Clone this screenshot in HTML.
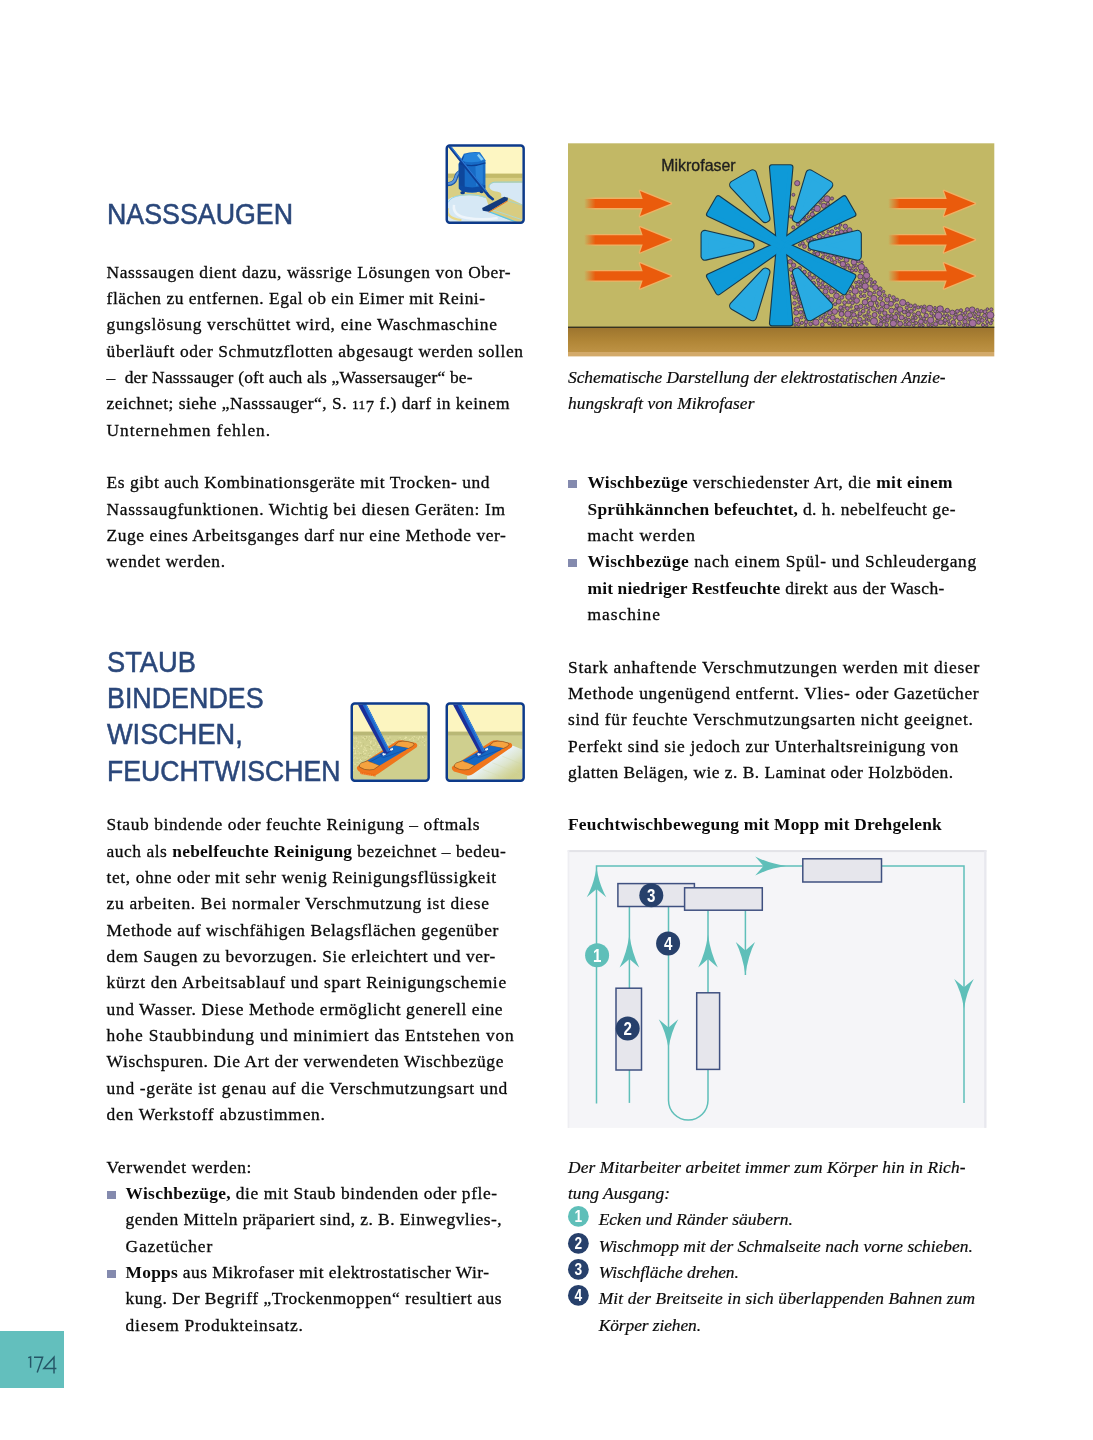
<!DOCTYPE html><html><head><meta charset="utf-8"><title>p174</title><style>

html,body{margin:0;padding:0;background:#fff;}
body{width:1093px;height:1440px;position:relative;overflow:hidden;font-family:"Liberation Serif",serif;}
.l{position:absolute;white-space:nowrap;font-size:17.4px;line-height:20px;height:20px;color:#0a0a0a;letter-spacing:var(--ls);-webkit-text-stroke:0.3px #0a0a0a;}
.l b{letter-spacing:calc(var(--ls) - 0.28px);-webkit-text-stroke:0;}
.os{font-size:0.77em;}
.os7{position:relative;top:0.17em;font-size:0.95em;}
.l.i{font-style:italic;-webkit-text-stroke:0.2px #0a0a0a;}
.l b{font-weight:bold;}
.h{position:absolute;white-space:nowrap;font-family:"Liberation Sans",sans-serif;font-size:29.6px;line-height:30px;height:30px;color:#2a477a;transform-origin:0 50%;-webkit-text-stroke:0.55px #2a477a;}
.sq{position:absolute;width:8.7px;height:7.5px;background:#848aae;}
.abs{position:absolute;}
#pg{position:absolute;left:0;top:0;width:1093px;height:1440px;will-change:transform;}

</style></head><body><div id="pg">
<div class="l r" id="l0" style="left:106.6px;top:262.00px;--ls:0.575px">Nasssaugen dient dazu, wässrige Lösungen von Ober-</div>
<div class="l r" id="l1" style="left:106.6px;top:288.00px;--ls:0.539px">flächen zu entfernen. Egal ob ein Eimer mit Reini-</div>
<div class="l r" id="l2" style="left:106.6px;top:314.00px;--ls:0.686px">gungslösung verschüttet wird, eine Waschmaschine</div>
<div class="l r" id="l3" style="left:106.6px;top:341.00px;--ls:0.624px">überläuft oder Schmutzflotten abgesaugt werden sollen</div>
<div class="l r" id="l4" style="left:106.6px;top:367.00px;--ls:0.225px">–&nbsp; der Nasssauger (oft auch als „Wassersauger“ be-</div>
<div class="l r" id="l5" style="left:106.6px;top:393.00px;--ls:0.497px">zeichnet; siehe „Nasssauger“, S. <span class="os">11</span><span class="os7">7</span> f.) darf in keinem</div>
<div class="l r" id="l6" style="left:106.6px;top:420.00px;--ls:0.926px">Unternehmen fehlen.</div>
<div class="l r" id="l7" style="left:106.6px;top:472.00px;--ls:0.561px">Es gibt auch Kombinationsgeräte mit Trocken- und</div>
<div class="l r" id="l8" style="left:106.6px;top:499.00px;--ls:0.640px">Nasssaugfunktionen. Wichtig bei diesen Geräten: Im</div>
<div class="l r" id="l9" style="left:106.6px;top:525.00px;--ls:0.583px">Zuge eines Arbeitsganges darf nur eine Methode ver-</div>
<div class="l r" id="l10" style="left:106.6px;top:551.00px;--ls:0.643px">wendet werden.</div>
<div class="l r" id="l11" style="left:106.6px;top:814.00px;--ls:0.608px">Staub bindende oder feuchte Reinigung – oftmals</div>
<div class="l r" id="l12" style="left:106.6px;top:841.00px;--ls:0.536px">auch als <b>nebelfeuchte Reinigung</b> bezeichnet – bedeu-</div>
<div class="l r" id="l13" style="left:106.6px;top:867.00px;--ls:0.614px">tet, ohne oder mit sehr wenig Reinigungsflüssigkeit</div>
<div class="l r" id="l14" style="left:106.6px;top:893.00px;--ls:0.677px">zu arbeiten. Bei normaler Verschmutzung ist diese</div>
<div class="l r" id="l15" style="left:106.6px;top:920.00px;--ls:0.565px">Methode auf wischfähigen Belagsflächen gegenüber</div>
<div class="l r" id="l16" style="left:106.6px;top:946.00px;--ls:0.590px">dem Saugen zu bevorzugen. Sie erleichtert und ver-</div>
<div class="l r" id="l17" style="left:106.6px;top:972.00px;--ls:0.692px">kürzt den Arbeitsablauf und spart Reinigungschemie</div>
<div class="l r" id="l18" style="left:106.6px;top:999.00px;--ls:0.597px">und Wasser. Diese Methode ermöglicht generell eine</div>
<div class="l r" id="l19" style="left:106.6px;top:1025.00px;--ls:0.791px">hohe Staubbindung und minimiert das Entstehen von</div>
<div class="l r" id="l20" style="left:106.6px;top:1051.00px;--ls:0.629px">Wischspuren. Die Art der verwendeten Wischbezüge</div>
<div class="l r" id="l21" style="left:106.6px;top:1078.00px;--ls:0.709px">und -geräte ist genau auf die Verschmutzungsart und</div>
<div class="l r" id="l22" style="left:106.6px;top:1104.00px;--ls:0.759px">den Werkstoff abzustimmen.</div>
<div class="l r" id="l23" style="left:106.6px;top:1157.00px;--ls:0.634px">Verwendet werden:</div>
<div class="l r" id="l24" style="left:125.6px;top:1183.00px;--ls:0.584px"><b>Wischbezüge,</b> die mit Staub bindenden oder pfle-</div>
<div class="l r" id="l25" style="left:125.6px;top:1209.00px;--ls:0.467px">genden Mitteln präpariert sind, z. B. Einwegvlies-,</div>
<div class="l r" id="l26" style="left:125.6px;top:1236.00px;--ls:0.823px">Gazetücher</div>
<div class="l r" id="l27" style="left:125.6px;top:1262.00px;--ls:0.497px"><b>Mopps</b> aus Mikrofaser mit elektrostatischer Wir-</div>
<div class="l r" id="l28" style="left:125.6px;top:1288.00px;--ls:0.537px">kung. Der Begriff „Trockenmoppen“ resultiert aus</div>
<div class="l r" id="l29" style="left:125.6px;top:1315.00px;--ls:0.762px">diesem Produkteinsatz.</div>
<div class="l i" id="l30" style="left:568.0px;top:367.00px;--ls:-0.038px">Schematische Darstellung der elektrostatischen Anzie-</div>
<div class="l i" id="l31" style="left:568.0px;top:393.00px;--ls:0.066px">hungskraft von Mikrofaser</div>
<div class="l r" id="l32" style="left:587.5px;top:472.00px;--ls:0.573px"><b>Wischbezüge</b> verschiedenster Art, die <b>mit einem</b></div>
<div class="l r" id="l33" style="left:587.5px;top:499.00px;--ls:0.507px"><b>Sprühkännchen befeuchtet,</b> d. h. nebelfeucht ge-</div>
<div class="l r" id="l34" style="left:587.5px;top:525.00px;--ls:0.847px">macht werden</div>
<div class="l r" id="l35" style="left:587.5px;top:551.00px;--ls:0.679px"><b>Wischbezüge</b> nach einem Spül- und Schleudergang</div>
<div class="l r" id="l36" style="left:587.5px;top:578.00px;--ls:0.437px"><b>mit niedriger Restfeuchte</b> direkt aus der Wasch-</div>
<div class="l r" id="l37" style="left:587.5px;top:604.00px;--ls:0.977px">maschine</div>
<div class="l r" id="l38" style="left:568.0px;top:657.00px;--ls:0.742px">Stark anhaftende Verschmutzungen werden mit dieser</div>
<div class="l r" id="l39" style="left:568.0px;top:683.00px;--ls:0.627px">Methode ungenügend entfernt. Vlies- oder Gazetücher</div>
<div class="l r" id="l40" style="left:568.0px;top:709.00px;--ls:0.692px">sind für feuchte Verschmutzungsarten nicht geeignet.</div>
<div class="l r" id="l41" style="left:568.0px;top:736.00px;--ls:0.636px">Perfekt sind sie jedoch zur Unterhaltsreinigung von</div>
<div class="l r" id="l42" style="left:568.0px;top:762.00px;--ls:0.478px">glatten Belägen, wie z. B. Laminat oder Holzböden.</div>
<div class="l r" id="l43" style="left:568.0px;top:814.00px;--ls:0.492px"><b>Feuchtwischbewegung mit Mopp mit Drehgelenk</b></div>
<div class="l i" id="l44" style="left:568.0px;top:1157.00px;--ls:0.100px">Der Mitarbeiter arbeitet immer zum Körper hin in Rich-</div>
<div class="l i" id="l45" style="left:568.0px;top:1183.00px;--ls:0.030px">tung Ausgang:</div>
<div class="l i" id="l46" style="left:598.7px;top:1209.00px;--ls:0.040px">Ecken und Ränder säubern.</div>
<div class="l i" id="l47" style="left:598.7px;top:1236.00px;--ls:0.015px">Wischmopp mit der Schmalseite nach vorne schieben.</div>
<div class="l i" id="l48" style="left:598.7px;top:1262.00px;--ls:-0.009px">Wischfläche drehen.</div>
<div class="l i" id="l49" style="left:598.7px;top:1288.00px;--ls:0.112px">Mit der Breitseite in sich überlappenden Bahnen zum</div>
<div class="l i" id="l50" style="left:598.7px;top:1315.00px;--ls:-0.077px">Körper ziehen.</div>
<div class="h" id="h0" style="left:107.1px;top:199.34px;transform:scaleX(0.9048)">NASSSAUGEN</div>
<div class="h" id="h1" style="left:107.1px;top:646.64px;transform:scaleX(0.9205)">STAUB</div>
<div class="h" id="h2" style="left:107.1px;top:682.74px;transform:scaleX(0.9069)">BINDENDES</div>
<div class="h" id="h3" style="left:107.1px;top:718.74px;transform:scaleX(0.9171)">WISCHEN,</div>
<div class="h" id="h4" style="left:107.1px;top:755.54px;transform:scaleX(0.8985)">FEUCHTWISCHEN</div>
<div class="abs" style="left:0;top:1331px;width:64px;height:57px;background:#63bfbd"></div>
<svg class="abs" style="left:24px;top:1352px" width="40" height="28" viewBox="0 0 40 28">
<g fill="none" stroke="#255566" stroke-width="1.45" stroke-linecap="butt" stroke-linejoin="miter">
<path d="M4.2 5.6 L6.6 5.0 L6.6 15.8"/>
<path d="M10.0 5.2 L18.6 5.2 L13.2 20.4"/>
<path d="M30.0 21.4 L30.0 5.2 L19.8 16.4 L32.4 16.4"/>
</g></svg>
<div class="sq" style="left:107.2px;top:1191.0px"></div>
<div class="sq" style="left:107.2px;top:1270.0px"></div>
<div class="sq" style="left:568.2px;top:480.4px"></div>
<div class="sq" style="left:568.2px;top:559.4px"></div>
<svg class="abs" style="left:567.00px;top:1205.47px" width="22.8" height="22.8" viewBox="0 0 22.8 22.8"><circle cx="11.4" cy="11.4" r="10.4" fill="#5fbfb9"/><text transform="translate(11.4 17.30) scale(0.84 1)" x="0" y="0" text-anchor="middle" font-family="Liberation Sans, sans-serif" font-weight="bold" font-size="16.4" fill="#fff">1</text></svg>
<svg class="abs" style="left:567.00px;top:1231.79px" width="22.8" height="22.8" viewBox="0 0 22.8 22.8"><circle cx="11.4" cy="11.4" r="10.4" fill="#27406b"/><text transform="translate(11.4 17.30) scale(0.84 1)" x="0" y="0" text-anchor="middle" font-family="Liberation Sans, sans-serif" font-weight="bold" font-size="16.4" fill="#fff">2</text></svg>
<svg class="abs" style="left:567.00px;top:1258.11px" width="22.8" height="22.8" viewBox="0 0 22.8 22.8"><circle cx="11.4" cy="11.4" r="10.4" fill="#27406b"/><text transform="translate(11.4 17.30) scale(0.84 1)" x="0" y="0" text-anchor="middle" font-family="Liberation Sans, sans-serif" font-weight="bold" font-size="16.4" fill="#fff">3</text></svg>
<svg class="abs" style="left:567.00px;top:1284.43px" width="22.8" height="22.8" viewBox="0 0 22.8 22.8"><circle cx="11.4" cy="11.4" r="10.4" fill="#27406b"/><text transform="translate(11.4 17.30) scale(0.84 1)" x="0" y="0" text-anchor="middle" font-family="Liberation Sans, sans-serif" font-weight="bold" font-size="16.4" fill="#fff">4</text></svg>
<svg class="abs" style="left:567px;top:850px" width="421" height="279" viewBox="567 850 421 279">
<rect x="567.7" y="850.1" width="418.7" height="277.8" fill="#f5f5f8"/>
<rect x="567.7" y="850.1" width="418.7" height="2" fill="#e3e3e8"/>
<rect x="567.7" y="850.1" width="1.6" height="277.8" fill="#eeeef2"/>
<rect x="984.2" y="850.1" width="2.2" height="277.8" fill="#e8e8ee"/>
<path d="M596.5 1103.5 L596.5 866 L964 866 L964 1103" fill="none" stroke="#5fbfb9" stroke-width="1.5"/>
<path d="M629.4 906.7 L629.4 1102.9" fill="none" stroke="#5fbfb9" stroke-width="1.5"/>
<path d="M668.5 906.7 L668.5 1100.3 A19.75 19.75 0 0 0 708 1100.3 L708 910.4" fill="none" stroke="#5fbfb9" stroke-width="1.5"/>
<path d="M745.4 910.4 L745.4 975" fill="none" stroke="#5fbfb9" stroke-width="1.5"/>
<path d="M596.5 867.5 Q599.24 884.78 606.3 897.3 L596.5 889 L586.7 897.3 Q593.76 884.78 596.5 867.5 Z" fill="#5fbfb9"/>
<path d="M786 866 Q768.14 863.31 755.2 856.4 L763.5 866 L755.2 875.6 Q768.14 868.69 786 866 Z" fill="#5fbfb9"/>
<path d="M629.4 934.8 Q632.14 953.77 639.1999999999999 967.5 L629.4 959 L619.6 967.5 Q626.66 953.77 629.4 934.8 Z" fill="#5fbfb9"/>
<path d="M668.5 1048.3 Q671.24 1031.42 678.3 1019.2 L668.5 1027.5 L658.7 1019.2 Q665.76 1031.42 668.5 1048.3 Z" fill="#5fbfb9"/>
<path d="M708 934.8 Q710.74 953.77 717.8 967.5 L708 959 L698.2 967.5 Q705.26 953.77 708 934.8 Z" fill="#5fbfb9"/>
<path d="M745.4 975 Q748.09 955.92 755.0 942.1 L745.4 950.5 L735.8 942.1 Q742.71 955.92 745.4 975 Z" fill="#5fbfb9"/>
<path d="M964 1008.4 Q966.74 991.29 973.8 978.9 L964 987.3 L954.2 978.9 Q961.26 991.29 964 1008.4 Z" fill="#5fbfb9"/>
<rect x="802.8" y="858.8" width="78.7" height="23.2" fill="#e6e6ec" stroke="#3f5080" stroke-width="1.5"/>
<rect x="617.9" y="883.6" width="76.5" height="22.9" fill="#e6e6ec" stroke="#3f5080" stroke-width="1.5"/>
<rect x="684.6" y="887.8" width="77.7" height="22.4" fill="#e6e6ec" stroke="#3f5080" stroke-width="1.5"/>
<rect x="616.0" y="988.2" width="25.5" height="81.8" fill="#e6e6ec" stroke="#3f5080" stroke-width="1.5"/>
<rect x="696.7" y="992.8" width="22.9" height="76.6" fill="#e6e6ec" stroke="#3f5080" stroke-width="1.5"/>
<circle cx="597.1" cy="955.2" r="12" fill="#5fbfb9"/><text transform="translate(597.1 961.6) scale(0.84 1)" x="0" y="0" text-anchor="middle" font-family="Liberation Sans, sans-serif" font-weight="bold" font-size="18" fill="#fff">1</text>
<circle cx="627.7" cy="1028.5" r="12" fill="#27406b"/><text transform="translate(627.7 1034.9) scale(0.84 1)" x="0" y="0" text-anchor="middle" font-family="Liberation Sans, sans-serif" font-weight="bold" font-size="18" fill="#fff">2</text>
<circle cx="651.3" cy="895.2" r="12" fill="#27406b"/><text transform="translate(651.3 901.6) scale(0.84 1)" x="0" y="0" text-anchor="middle" font-family="Liberation Sans, sans-serif" font-weight="bold" font-size="18" fill="#fff">3</text>
<circle cx="668.1" cy="943.5" r="12" fill="#27406b"/><text transform="translate(668.1 949.9) scale(0.84 1)" x="0" y="0" text-anchor="middle" font-family="Liberation Sans, sans-serif" font-weight="bold" font-size="18" fill="#fff">4</text>
</svg><svg class="abs" style="left:568px;top:143px" width="428" height="215" viewBox="568 143 428 215">
<defs>
<linearGradient id="gr" x1="0" y1="0" x2="0" y2="1"><stop offset="0" stop-color="#9c742e"/><stop offset="0.45" stop-color="#b08536"/><stop offset="0.84" stop-color="#bd9244"/><stop offset="0.85" stop-color="#d3aa6a"/><stop offset="1" stop-color="#d3aa6a"/></linearGradient>
<linearGradient id="af" x1="0" y1="0" x2="1" y2="0"><stop offset="0" stop-color="#ea5b0c" stop-opacity="0"/><stop offset="0.13" stop-color="#ea5b0c" stop-opacity="1"/><stop offset="1" stop-color="#ea5b0c"/></linearGradient>
<linearGradient id="ah" x1="0" y1="0" x2="1" y2="0"><stop offset="0" stop-color="#f0a050" stop-opacity="0"/><stop offset="0.13" stop-color="#f6b064" stop-opacity="0.85"/><stop offset="1" stop-color="#f6b064" stop-opacity="0.85"/></linearGradient>
</defs>
<rect x="568" y="143.3" width="426.3" height="183.9" fill="#c2b865"/>
<rect x="568" y="327.2" width="426.3" height="29.2" fill="url(#gr)"/>
<path d="M584.2 198.9 L642.7 198.9 L640.0 190.9 L670.9000000000001 203.5 L640.0 216.1 L642.7 208.1 L584.2 208.1 Z" fill="none" stroke="url(#ah)" stroke-width="2.6" stroke-linejoin="round"/><path d="M584.2 198.9 L642.7 198.9 L640.0 190.9 L670.9000000000001 203.5 L640.0 216.1 L642.7 208.1 L584.2 208.1 Z" fill="url(#af)"/>
<path d="M888.2 198.9 L946.7 198.9 L944.0 190.9 L974.9000000000001 203.5 L944.0 216.1 L946.7 208.1 L888.2 208.1 Z" fill="none" stroke="url(#ah)" stroke-width="2.6" stroke-linejoin="round"/><path d="M888.2 198.9 L946.7 198.9 L944.0 190.9 L974.9000000000001 203.5 L944.0 216.1 L946.7 208.1 L888.2 208.1 Z" fill="url(#af)"/>
<path d="M584.2 235.20000000000002 L642.7 235.20000000000002 L640.0 227.20000000000002 L670.9000000000001 239.8 L640.0 252.4 L642.7 244.4 L584.2 244.4 Z" fill="none" stroke="url(#ah)" stroke-width="2.6" stroke-linejoin="round"/><path d="M584.2 235.20000000000002 L642.7 235.20000000000002 L640.0 227.20000000000002 L670.9000000000001 239.8 L640.0 252.4 L642.7 244.4 L584.2 244.4 Z" fill="url(#af)"/>
<path d="M888.2 235.20000000000002 L946.7 235.20000000000002 L944.0 227.20000000000002 L974.9000000000001 239.8 L944.0 252.4 L946.7 244.4 L888.2 244.4 Z" fill="none" stroke="url(#ah)" stroke-width="2.6" stroke-linejoin="round"/><path d="M888.2 235.20000000000002 L946.7 235.20000000000002 L944.0 227.20000000000002 L974.9000000000001 239.8 L944.0 252.4 L946.7 244.4 L888.2 244.4 Z" fill="url(#af)"/>
<path d="M584.2 271.29999999999995 L642.7 271.29999999999995 L640.0 263.29999999999995 L670.9000000000001 275.9 L640.0 288.5 L642.7 280.5 L584.2 280.5 Z" fill="none" stroke="url(#ah)" stroke-width="2.6" stroke-linejoin="round"/><path d="M584.2 271.29999999999995 L642.7 271.29999999999995 L640.0 263.29999999999995 L670.9000000000001 275.9 L640.0 288.5 L642.7 280.5 L584.2 280.5 Z" fill="url(#af)"/>
<path d="M888.2 271.29999999999995 L946.7 271.29999999999995 L944.0 263.29999999999995 L974.9000000000001 275.9 L944.0 288.5 L946.7 280.5 L888.2 280.5 Z" fill="none" stroke="url(#ah)" stroke-width="2.6" stroke-linejoin="round"/><path d="M888.2 271.29999999999995 L946.7 271.29999999999995 L944.0 263.29999999999995 L974.9000000000001 275.9 L944.0 288.5 L946.7 280.5 L888.2 280.5 Z" fill="url(#af)"/>
<text x="661.2" y="171.2" font-family="Liberation Sans, sans-serif" font-size="16.4" fill="#1e1e1e" stroke="#1e1e1e" stroke-width="0.35" textLength="74.5" lengthAdjust="spacingAndGlyphs">Mikrofaser</text>
<g fill="#a46f9e" stroke="#4d3b50" stroke-width="0.8"><circle cx="957.3" cy="311.3" r="1.9"/><circle cx="915.7" cy="317.9" r="1.6"/><circle cx="904.3" cy="312.0" r="1.9"/><circle cx="870.9" cy="303.9" r="2.8"/><circle cx="847.4" cy="308.4" r="1.9"/><circle cx="860.9" cy="296.2" r="1.6"/><circle cx="901.6" cy="317.4" r="2.5"/><circle cx="926.2" cy="315.5" r="2.2"/><circle cx="880.7" cy="324.2" r="2.2"/><circle cx="947.3" cy="310.5" r="2.2"/><circle cx="893.3" cy="323.5" r="3.2"/><circle cx="877.2" cy="310.5" r="1.6"/><circle cx="854.5" cy="321.3" r="2.5"/><circle cx="848.5" cy="296.7" r="2.8"/><circle cx="887.3" cy="320.5" r="1.6"/><circle cx="929.8" cy="308.5" r="3.2"/><circle cx="930.7" cy="320.2" r="3.2"/><circle cx="970.1" cy="315.3" r="2.5"/><circle cx="794.5" cy="303.3" r="1.9"/><circle cx="938.5" cy="315.8" r="3.6"/><circle cx="887.3" cy="299.7" r="2.5"/><circle cx="870.0" cy="293.8" r="2.5"/><circle cx="985.0" cy="311.7" r="1.9"/><circle cx="814.1" cy="277.4" r="1.6"/><circle cx="884.8" cy="313.1" r="2.2"/><circle cx="911.3" cy="311.3" r="1.9"/><circle cx="920.9" cy="321.7" r="2.5"/><circle cx="972.7" cy="323.2" r="3.6"/><circle cx="866.6" cy="275.5" r="3.2"/><circle cx="866.9" cy="280.9" r="1.9"/><circle cx="875.4" cy="287.5" r="2.8"/><circle cx="884.6" cy="295.5" r="1.6"/><circle cx="940.9" cy="322.3" r="2.5"/><circle cx="825.5" cy="320.6" r="2.2"/><circle cx="965.0" cy="321.7" r="2.2"/><circle cx="952.3" cy="312.6" r="2.5"/><circle cx="949.5" cy="317.6" r="1.9"/><circle cx="953.4" cy="322.2" r="2.2"/><circle cx="984.5" cy="315.6" r="1.9"/><circle cx="960.2" cy="317.7" r="3.2"/><circle cx="880.2" cy="317.1" r="1.6"/><circle cx="908.3" cy="314.5" r="2.2"/><circle cx="874.0" cy="321.3" r="3.6"/><circle cx="967.3" cy="309.5" r="1.9"/><circle cx="900.0" cy="309.5" r="2.8"/><circle cx="804.5" cy="272.1" r="1.9"/><circle cx="865.2" cy="286.2" r="3.2"/><circle cx="918.4" cy="313.5" r="2.2"/><circle cx="844.6" cy="323.0" r="1.6"/><circle cx="990.8" cy="323.3" r="1.6"/><circle cx="796.1" cy="312.7" r="2.5"/><circle cx="978.5" cy="313.9" r="1.9"/><circle cx="891.0" cy="303.8" r="2.5"/><circle cx="990.3" cy="315.2" r="3.6"/><circle cx="793.7" cy="293.1" r="2.5"/><circle cx="908.9" cy="319.8" r="1.6"/><circle cx="879.4" cy="293.3" r="2.5"/><circle cx="801.3" cy="306.0" r="1.9"/><circle cx="918.3" cy="307.4" r="1.6"/><circle cx="796.9" cy="320.0" r="2.8"/><circle cx="825.5" cy="291.5" r="2.5"/><circle cx="886.7" cy="306.6" r="2.5"/><circle cx="891.5" cy="310.7" r="2.5"/><circle cx="864.0" cy="322.0" r="1.9"/><circle cx="861.2" cy="324.2" r="1.6"/><circle cx="860.1" cy="313.6" r="1.9"/><circle cx="863.2" cy="311.1" r="1.9"/><circle cx="949.5" cy="324.4" r="1.6"/><circle cx="902.7" cy="302.6" r="3.2"/><circle cx="931.4" cy="313.5" r="1.6"/><circle cx="858.8" cy="281.8" r="1.6"/><circle cx="880.6" cy="298.6" r="2.2"/><circle cx="977.4" cy="310.0" r="1.6"/><circle cx="940.2" cy="309.0" r="3.2"/><circle cx="935.8" cy="324.1" r="2.2"/><circle cx="882.4" cy="304.0" r="2.5"/><circle cx="822.9" cy="238.1" r="1.6"/><circle cx="836.5" cy="295.9" r="2.8"/><circle cx="853.9" cy="262.1" r="2.8"/><circle cx="886.6" cy="324.8" r="1.9"/><circle cx="837.2" cy="258.2" r="1.9"/><circle cx="831.0" cy="255.2" r="2.2"/><circle cx="895.2" cy="317.2" r="2.5"/><circle cx="864.8" cy="291.2" r="1.6"/><circle cx="978.6" cy="322.4" r="1.9"/><circle cx="823.8" cy="205.8" r="2.5"/><circle cx="972.2" cy="309.7" r="2.8"/><circle cx="876.7" cy="303.0" r="1.6"/><circle cx="856.4" cy="307.0" r="1.9"/><circle cx="793.5" cy="283.3" r="2.2"/><circle cx="804.5" cy="246.5" r="1.9"/><circle cx="837.2" cy="233.1" r="1.9"/><circle cx="865.0" cy="302.2" r="2.8"/><circle cx="842.9" cy="264.1" r="2.8"/><circle cx="837.2" cy="320.3" r="2.2"/><circle cx="912.9" cy="320.8" r="1.9"/><circle cx="841.5" cy="314.0" r="2.5"/><circle cx="864.4" cy="295.9" r="1.6"/><circle cx="855.2" cy="291.0" r="3.2"/><circle cx="812.3" cy="214.5" r="2.2"/><circle cx="853.8" cy="314.8" r="2.2"/><circle cx="822.8" cy="287.0" r="1.9"/><circle cx="799.6" cy="268.3" r="1.9"/><circle cx="800.7" cy="312.3" r="1.9"/><circle cx="861.3" cy="266.9" r="3.2"/><circle cx="910.7" cy="305.9" r="1.9"/><circle cx="900.2" cy="323.8" r="2.5"/><circle cx="815.9" cy="322.2" r="3.2"/><circle cx="852.4" cy="302.8" r="1.9"/><circle cx="817.6" cy="254.0" r="2.2"/><circle cx="923.7" cy="310.8" r="2.5"/><circle cx="868.5" cy="312.0" r="1.6"/><circle cx="835.1" cy="304.2" r="1.6"/><circle cx="896.8" cy="305.6" r="1.9"/><circle cx="916.2" cy="323.0" r="1.6"/><circle cx="859.8" cy="319.4" r="2.2"/><circle cx="844.6" cy="302.6" r="1.9"/><circle cx="856.7" cy="300.6" r="2.8"/><circle cx="959.3" cy="323.6" r="1.9"/><circle cx="847.9" cy="265.3" r="1.6"/><circle cx="928.5" cy="325.1" r="1.6"/><circle cx="832.0" cy="231.6" r="1.9"/><circle cx="897.1" cy="299.7" r="1.6"/><circle cx="798.6" cy="299.5" r="1.6"/><circle cx="814.7" cy="240.1" r="1.6"/><circle cx="834.7" cy="311.6" r="2.8"/><circle cx="846.5" cy="259.8" r="2.5"/><circle cx="982.3" cy="320.4" r="1.9"/><circle cx="827.0" cy="198.9" r="3.2"/><circle cx="893.4" cy="297.6" r="1.9"/><circle cx="857.0" cy="286.4" r="1.6"/><circle cx="848.9" cy="324.4" r="1.6"/><circle cx="873.4" cy="308.8" r="2.2"/><circle cx="822.3" cy="324.7" r="1.9"/><circle cx="827.6" cy="296.6" r="1.9"/><circle cx="852.2" cy="325.0" r="1.6"/><circle cx="967.5" cy="325.2" r="1.6"/><circle cx="817.2" cy="208.5" r="3.2"/><circle cx="805.7" cy="219.7" r="1.6"/><circle cx="874.6" cy="315.0" r="2.5"/><circle cx="855.9" cy="270.2" r="1.6"/><circle cx="884.1" cy="321.5" r="1.6"/><circle cx="860.3" cy="276.5" r="2.5"/><circle cx="974.9" cy="316.8" r="1.6"/><circle cx="965.3" cy="312.9" r="1.6"/><circle cx="920.4" cy="316.9" r="1.6"/><circle cx="905.3" cy="324.4" r="1.6"/><circle cx="987.2" cy="322.0" r="1.6"/><circle cx="827.0" cy="236.3" r="2.5"/><circle cx="906.8" cy="307.6" r="1.6"/><circle cx="818.7" cy="283.7" r="1.6"/><circle cx="991.3" cy="309.4" r="1.6"/><circle cx="914.2" cy="314.5" r="1.6"/><circle cx="801.9" cy="322.9" r="1.6"/><circle cx="873.9" cy="298.6" r="3.2"/><circle cx="888.1" cy="316.4" r="1.9"/><circle cx="961.0" cy="310.3" r="1.6"/><circle cx="954.7" cy="317.6" r="1.9"/><circle cx="874.8" cy="282.2" r="1.6"/><circle cx="924.4" cy="306.6" r="1.6"/><circle cx="884.3" cy="317.8" r="1.9"/><circle cx="914.4" cy="308.9" r="1.6"/><circle cx="847.9" cy="314.1" r="3.2"/><circle cx="831.3" cy="299.9" r="2.5"/><circle cx="818.0" cy="280.1" r="1.6"/><circle cx="840.0" cy="325.0" r="1.9"/><circle cx="838.7" cy="301.6" r="2.5"/><circle cx="945.2" cy="320.2" r="1.9"/><circle cx="841.8" cy="297.4" r="1.9"/><circle cx="849.6" cy="230.2" r="2.5"/><circle cx="870.9" cy="279.4" r="1.6"/><circle cx="881.7" cy="309.5" r="2.2"/><circle cx="791.1" cy="269.5" r="1.9"/><circle cx="809.5" cy="249.3" r="1.6"/><circle cx="825.6" cy="254.3" r="1.6"/><circle cx="801.5" cy="317.4" r="1.6"/><circle cx="860.7" cy="306.4" r="2.2"/><circle cx="809.9" cy="278.2" r="2.5"/><circle cx="840.6" cy="307.6" r="1.9"/><circle cx="845.3" cy="226.3" r="2.2"/><circle cx="841.3" cy="257.8" r="1.6"/><circle cx="847.6" cy="320.0" r="1.6"/><circle cx="841.3" cy="232.0" r="2.2"/><circle cx="792.6" cy="275.9" r="1.9"/><circle cx="983.0" cy="325.0" r="1.6"/><circle cx="831.6" cy="291.5" r="2.2"/><circle cx="832.7" cy="317.7" r="2.5"/><circle cx="891.2" cy="318.8" r="1.6"/><circle cx="944.1" cy="316.1" r="1.6"/><circle cx="854.4" cy="296.2" r="1.6"/><circle cx="802.8" cy="243.3" r="1.6"/><circle cx="851.9" cy="311.3" r="1.3"/><circle cx="794.9" cy="297.5" r="1.6"/><circle cx="912.6" cy="317.5" r="1.3"/><circle cx="829.8" cy="312.8" r="2.2"/><circle cx="955.9" cy="314.5" r="1.3"/><circle cx="977.7" cy="318.9" r="1.6"/><circle cx="822.8" cy="257.2" r="1.6"/><circle cx="883.6" cy="291.6" r="1.3"/><circle cx="829.2" cy="323.2" r="1.6"/><circle cx="935.1" cy="311.1" r="1.6"/><circle cx="797.9" cy="224.5" r="1.6"/><circle cx="793.2" cy="279.3" r="1.3"/><circle cx="866.9" cy="324.0" r="1.3"/><circle cx="822.6" cy="283.0" r="1.6"/><circle cx="880.9" cy="320.6" r="1.3"/><circle cx="832.0" cy="198.5" r="1.6"/><circle cx="831.6" cy="259.9" r="1.6"/><circle cx="871.1" cy="286.0" r="1.3"/><circle cx="864.1" cy="316.1" r="1.3"/><circle cx="980.6" cy="317.3" r="1.3"/><circle cx="855.1" cy="310.2" r="1.3"/><circle cx="869.6" cy="316.5" r="1.6"/><circle cx="935.0" cy="307.8" r="1.3"/><circle cx="829.5" cy="288.1" r="1.6"/><circle cx="798.1" cy="307.1" r="1.3"/><circle cx="804.2" cy="314.7" r="1.3"/><circle cx="915.0" cy="305.5" r="1.6"/><circle cx="905.1" cy="321.2" r="1.3"/><circle cx="863.8" cy="279.2" r="1.3"/><circle cx="965.4" cy="317.4" r="1.9"/><circle cx="795.0" cy="308.4" r="1.3"/><circle cx="925.6" cy="321.9" r="1.6"/><circle cx="923.0" cy="325.5" r="1.3"/><circle cx="835.7" cy="228.2" r="1.3"/><circle cx="858.4" cy="261.3" r="1.6"/><circle cx="851.1" cy="306.9" r="1.3"/><circle cx="860.0" cy="271.6" r="1.3"/><circle cx="812.9" cy="210.6" r="1.3"/><circle cx="793.3" cy="288.0" r="1.3"/><circle cx="944.8" cy="323.5" r="1.3"/><circle cx="819.1" cy="287.6" r="1.6"/><circle cx="909.2" cy="323.9" r="2.2"/><circle cx="806.1" cy="322.0" r="1.9"/><circle cx="986.7" cy="325.5" r="1.3"/><circle cx="849.8" cy="268.2" r="1.6"/><circle cx="857.5" cy="316.1" r="1.3"/><circle cx="804.5" cy="216.7" r="1.3"/><circle cx="894.2" cy="301.1" r="1.3"/><circle cx="802.5" cy="218.9" r="1.6"/><circle cx="793.6" cy="265.2" r="2.2"/><circle cx="820.1" cy="202.9" r="1.3"/><circle cx="827.9" cy="203.9" r="1.6"/><circle cx="798.7" cy="324.6" r="1.6"/><circle cx="795.1" cy="324.9" r="1.3"/><circle cx="832.9" cy="322.6" r="1.3"/><circle cx="860.6" cy="292.3" r="1.6"/><circle cx="889.5" cy="295.7" r="1.3"/><circle cx="820.6" cy="318.3" r="1.6"/><circle cx="842.2" cy="319.7" r="1.9"/><circle cx="867.8" cy="290.2" r="1.3"/><circle cx="981.3" cy="311.1" r="1.6"/><circle cx="856.3" cy="265.9" r="1.3"/><circle cx="835.5" cy="291.4" r="1.3"/><circle cx="933.5" cy="315.9" r="1.3"/><circle cx="874.4" cy="292.6" r="1.3"/><circle cx="880.2" cy="288.7" r="1.9"/><circle cx="827.9" cy="257.7" r="1.3"/><circle cx="823.6" cy="316.8" r="1.3"/><circle cx="790.2" cy="261.8" r="2.2"/><circle cx="865.6" cy="307.3" r="1.6"/><circle cx="853.3" cy="266.8" r="1.3"/><circle cx="793.2" cy="227.4" r="1.6"/><circle cx="877.7" cy="306.0" r="1.3"/><circle cx="932.0" cy="325.3" r="1.3"/><circle cx="865.7" cy="268.5" r="1.3"/><circle cx="797.6" cy="290.0" r="1.3"/><circle cx="825.4" cy="314.5" r="1.3"/><circle cx="907.8" cy="303.7" r="1.6"/><circle cx="947.2" cy="315.1" r="1.3"/><circle cx="867.9" cy="298.7" r="1.3"/><circle cx="907.4" cy="310.8" r="1.3"/><circle cx="834.8" cy="262.4" r="1.9"/><circle cx="948.5" cy="321.5" r="1.3"/><circle cx="992.1" cy="320.6" r="1.3"/><circle cx="828.3" cy="231.6" r="1.3"/><circle cx="864.2" cy="271.3" r="1.3"/><circle cx="987.4" cy="309.1" r="1.3"/><circle cx="810.6" cy="324.0" r="1.9"/><circle cx="913.7" cy="325.3" r="1.3"/><circle cx="813.6" cy="283.1" r="1.9"/><circle cx="891.3" cy="315.2" r="1.3"/><circle cx="905.7" cy="318.3" r="1.3"/><circle cx="871.8" cy="282.9" r="1.3"/><circle cx="868.8" cy="308.4" r="1.3"/><circle cx="866.3" cy="319.0" r="1.3"/><circle cx="974.5" cy="313.3" r="1.3"/><circle cx="899.1" cy="313.9" r="1.3"/><circle cx="844.1" cy="306.5" r="1.6"/><circle cx="799.8" cy="245.0" r="1.3"/><circle cx="848.6" cy="302.1" r="1.6"/><circle cx="835.5" cy="325.0" r="1.6"/><circle cx="921.3" cy="306.9" r="1.3"/><circle cx="963.4" cy="325.2" r="1.3"/><circle cx="839.0" cy="228.0" r="1.3"/><circle cx="798.7" cy="296.2" r="1.6"/><circle cx="808.2" cy="240.8" r="1.6"/><circle cx="944.0" cy="312.0" r="1.3"/><circle cx="826.5" cy="286.6" r="1.6"/><circle cx="819.3" cy="236.5" r="2.2"/><circle cx="919.4" cy="325.6" r="1.3"/><circle cx="879.7" cy="312.9" r="1.3"/><circle cx="969.1" cy="319.7" r="1.3"/><circle cx="839.2" cy="261.7" r="1.3"/><circle cx="862.7" cy="281.8" r="1.3"/><circle cx="866.8" cy="315.0" r="1.3"/><circle cx="896.2" cy="313.3" r="1.3"/><circle cx="814.0" cy="252.8" r="1.3"/><circle cx="857.1" cy="325.0" r="1.6"/><circle cx="895.8" cy="308.9" r="1.3"/><circle cx="808.6" cy="216.8" r="1.3"/><circle cx="850.7" cy="317.8" r="1.3"/><circle cx="839.3" cy="310.8" r="1.3"/><circle cx="842.9" cy="310.3" r="1.3"/><circle cx="850.1" cy="291.7" r="1.3"/><circle cx="828.3" cy="317.4" r="1.3"/><circle cx="845.2" cy="231.3" r="1.6"/><circle cx="803.9" cy="311.1" r="1.3"/><circle cx="807.2" cy="213.2" r="1.3"/><circle cx="860.4" cy="287.3" r="1.3"/><circle cx="955.0" cy="325.5" r="1.3"/><circle cx="822.4" cy="200.4" r="1.3"/><circle cx="809.4" cy="273.9" r="1.6"/><circle cx="805.6" cy="325.4" r="1.3"/><circle cx="845.1" cy="267.8" r="1.3"/><circle cx="796.1" cy="286.6" r="1.3"/><circle cx="852.0" cy="270.7" r="1.6"/><circle cx="799.7" cy="221.9" r="1.3"/><circle cx="858.2" cy="309.8" r="1.3"/><circle cx="831.3" cy="236.3" r="1.3"/><circle cx="867.2" cy="270.8" r="1.3"/><circle cx="862.0" cy="262.3" r="1.3"/><circle cx="923.9" cy="318.7" r="1.6"/><circle cx="860.5" cy="284.4" r="1.3"/><circle cx="822.6" cy="252.7" r="1.3"/><circle cx="868.8" cy="320.2" r="1.3"/><circle cx="937.0" cy="320.7" r="1.3"/><circle cx="897.3" cy="321.0" r="1.3"/><circle cx="820.0" cy="251.2" r="1.3"/><circle cx="799.1" cy="302.8" r="1.3"/><circle cx="852.2" cy="298.9" r="1.3"/><circle cx="835.0" cy="255.6" r="1.3"/><circle cx="962.3" cy="313.5" r="1.3"/><circle cx="814.1" cy="250.0" r="1.3"/><circle cx="986.5" cy="319.0" r="1.3"/><circle cx="823.1" cy="233.1" r="1.3"/><circle cx="840.6" cy="225.0" r="1.3"/><circle cx="805.8" cy="318.1" r="1.3"/><circle cx="855.8" cy="282.6" r="1.3"/><circle cx="798.0" cy="292.9" r="1.3"/><circle cx="852.4" cy="286.9" r="1.3"/><circle cx="832.5" cy="325.6" r="1.3"/><circle cx="811.6" cy="238.9" r="1.6"/><circle cx="876.9" cy="325.5" r="1.3"/><circle cx="797.2" cy="183.2" r="2.6"/><circle cx="793.4" cy="194.8" r="1.5"/><circle cx="792.5" cy="208.0" r="2.0"/><circle cx="791.0" cy="216.5" r="1.6"/></g>
<rect x="568" y="326.59999999999997" width="426.3" height="1.3" fill="#2b2a1c"/>
<g stroke="#17384a" stroke-width="9.0" stroke-linejoin="round" fill="#17384a"><path d="M812.2 245.0 L857.4 234.3 L857.4 256.3 L812.2 245.6 Z"/><path d="M750.2 245.6 L705.0 256.3 L705.0 234.3 L750.2 245.0 Z"/><path d="M796.4 218.3 L809.8 173.8 L828.8 184.8 L797.0 218.6 Z"/><path d="M797.0 272.0 L828.8 305.8 L809.8 316.8 L796.4 272.3 Z"/><path d="M766.0 272.3 L752.6 316.8 L733.6 305.8 L765.4 272.0 Z"/><path d="M765.4 218.6 L733.6 184.8 L752.6 173.8 L766.0 218.3 Z"/></g>
<g stroke="#29abe2" stroke-width="6.8" stroke-linejoin="round" fill="#29abe2"><path d="M812.2 245.0 L857.4 234.3 L857.4 256.3 L812.2 245.6 Z"/><path d="M750.2 245.6 L705.0 256.3 L705.0 234.3 L750.2 245.0 Z"/><path d="M796.4 218.3 L809.8 173.8 L828.8 184.8 L797.0 218.6 Z"/><path d="M797.0 272.0 L828.8 305.8 L809.8 316.8 L796.4 272.3 Z"/><path d="M766.0 272.3 L752.6 316.8 L733.6 305.8 L765.4 272.0 Z"/><path d="M765.4 218.6 L733.6 184.8 L752.6 173.8 L766.0 218.3 Z"/></g>
<g stroke="#17384a" stroke-width="6.2" stroke-linejoin="round" fill="#17384a"><path d="M779.0 245.3 L772.0 167.3 L790.4 167.3 L783.4 245.3 Z"/><path d="M783.4 245.3 L790.4 323.3 L772.0 323.3 L779.0 245.3 Z"/><path d="M780.1 243.4 L844.1 198.3 L853.3 214.3 L782.3 247.2 Z"/><path d="M782.3 243.4 L853.3 276.3 L844.1 292.3 L780.1 247.2 Z"/><path d="M782.3 247.2 L718.3 292.3 L709.1 276.3 L780.1 243.4 Z"/><path d="M780.1 247.2 L709.1 214.3 L718.3 198.3 L782.3 243.4 Z"/></g>
<g stroke="#0e9ad8" stroke-width="4.0" stroke-linejoin="round" fill="#0e9ad8"><path d="M779.0 245.3 L772.0 167.3 L790.4 167.3 L783.4 245.3 Z"/><path d="M783.4 245.3 L790.4 323.3 L772.0 323.3 L779.0 245.3 Z"/><path d="M780.1 243.4 L844.1 198.3 L853.3 214.3 L782.3 247.2 Z"/><path d="M782.3 243.4 L853.3 276.3 L844.1 292.3 L780.1 247.2 Z"/><path d="M782.3 247.2 L718.3 292.3 L709.1 276.3 L780.1 243.4 Z"/><path d="M780.1 247.2 L709.1 214.3 L718.3 198.3 L782.3 243.4 Z"/></g>
</svg><svg class="abs" style="left:440px;top:139px" width="90" height="90" viewBox="0 0 1093 1093"><defs><clipPath id="c1"><rect x="92" y="90" width="912" height="915" rx="22" ry="22"/></clipPath></defs><g clip-path="url(#c1)">
<rect x="60" y="60" width="1000" height="370" fill="#fdf6c2"/>
<rect x="60" y="420" width="1000" height="55" fill="#c3ba6a"/>
<rect x="60" y="472" width="1000" height="560" fill="#d9cf83"/>
<path d="M1010 530 L660 532 Q590 545 600 590 Q620 640 700 640 Q760 650 740 700 L830 715 L1010 800 Z" fill="#d6e8f5"/>
<path d="M1010 522 L660 524 Q585 540 596 590" fill="none" stroke="#7fd0ea" stroke-width="10"/>
<path d="M90 760 Q100 700 260 690 Q430 670 560 720 L610 870 L1010 1010 L90 1010 Z" fill="#d6e8f5"/>
<path d="M100 770 Q120 705 260 682 Q430 662 560 712" fill="none" stroke="#8ed6ec" stroke-width="12"/>
<path d="M100 840 Q60 960 260 985" fill="none" stroke="#e8d98a" stroke-width="26"/>
<path d="M170 800 Q150 930 330 960 Q520 990 700 960" fill="none" stroke="#eef5fb" stroke-width="30"/>
<path d="M600 880 L820 745 L1010 800 L1010 1010 L900 1010 Z" fill="#d8cc80"/>
<path d="M600 885 L930 1010" fill="none" stroke="#56c4e8" stroke-width="14"/>
<path d="M640 860 L1010 985" fill="none" stroke="#9fdcee" stroke-width="9"/>
<path d="M820 750 L1010 805" fill="none" stroke="#8ed6ec" stroke-width="8"/>
<path d="M250 395 Q200 420 190 480 Q175 545 90 550" fill="none" stroke="#1b57a8" stroke-width="48"/>
<path d="M250 390 Q200 415 188 478 Q172 540 90 543" fill="none" stroke="#5d97dc" stroke-width="26"/>
<path d="M227 300 L290 178 Q385 150 485 162 L552 258 L552 600 Q500 650 390 650 Q260 645 228 600 Z" fill="#176bc6"/>
<path d="M227 300 L230 600 Q250 625 300 640 L300 300 L290 200 Z" fill="#0e479c"/>
<path d="M232 560 Q390 620 548 560 L550 600 Q500 650 390 650 Q260 645 230 600 Z" fill="#0d4aa3"/>
<path d="M300 190 Q385 160 480 170 L540 255 Q420 300 270 270 Z" fill="#2585dc"/>
<path d="M470 180 L530 245 L500 260 L450 200 Z" fill="#8fd0f2"/>
<path d="M240 300 Q390 350 552 290" fill="none" stroke="#0b3f94" stroke-width="16"/>
<path d="M430 330 L520 310 L520 540 L440 570 Z" fill="#2a86dc" opacity="0.8"/>
<ellipse cx="275" cy="652" rx="28" ry="20" fill="#0c3d8c"/><ellipse cx="505" cy="640" rx="26" ry="18" fill="#0c3d8c"/>
<path d="M100 70 L560 650 Q590 700 640 730" fill="none" stroke="#0e3f96" stroke-width="34" stroke-linecap="round"/>
<path d="M112 68 L566 640" fill="none" stroke="#2b7bd8" stroke-width="14"/>
<path d="M512 838 L780 700 L825 715 L822 745 L592 884 L520 872 Z" fill="#133a7c"/>
<path d="M592 890 L822 752" fill="none" stroke="#e8701c" stroke-width="12"/>
</g><rect x="82" y="78" width="934" height="938" rx="36" ry="36" fill="none" stroke="#0d3a8a" stroke-width="30"/></svg>
<svg class="abs" style="left:345px;top:697px" width="90" height="90" viewBox="0 0 1093 1093"><defs><clipPath id="c2"><rect x="92" y="90" width="912" height="915" rx="22" ry="22"/></clipPath></defs><g clip-path="url(#c2)">
<rect x="60" y="60" width="1000" height="370" fill="#fcf5c0"/>
<rect x="60" y="420" width="1000" height="52" fill="#b9b876"/>
<rect x="60" y="470" width="1000" height="560" fill="#cfcf8e"/>
<g fill="#eeeab0" opacity="0.85"><circle cx="310" cy="708" r="7"/><circle cx="593" cy="559" r="8"/><circle cx="305" cy="542" r="8"/><circle cx="153" cy="798" r="5"/><circle cx="368" cy="491" r="7"/><circle cx="183" cy="535" r="6"/><circle cx="328" cy="762" r="7"/><circle cx="464" cy="576" r="7"/><circle cx="703" cy="547" r="7"/><circle cx="286" cy="829" r="7"/><circle cx="353" cy="505" r="8"/><circle cx="175" cy="816" r="8"/><circle cx="907" cy="486" r="8"/><circle cx="135" cy="737" r="5"/><circle cx="437" cy="725" r="7"/><circle cx="375" cy="510" r="5"/><circle cx="359" cy="589" r="5"/><circle cx="421" cy="536" r="8"/><circle cx="711" cy="521" r="7"/><circle cx="310" cy="605" r="7"/><circle cx="105" cy="653" r="7"/><circle cx="113" cy="738" r="6"/><circle cx="149" cy="743" r="8"/><circle cx="646" cy="596" r="8"/><circle cx="115" cy="504" r="5"/><circle cx="967" cy="584" r="8"/><circle cx="365" cy="732" r="6"/><circle cx="424" cy="610" r="7"/><circle cx="859" cy="589" r="8"/><circle cx="190" cy="821" r="6"/><circle cx="376" cy="572" r="7"/><circle cx="311" cy="557" r="8"/><circle cx="683" cy="519" r="7"/><circle cx="298" cy="820" r="6"/><circle cx="167" cy="791" r="6"/><circle cx="299" cy="529" r="6"/><circle cx="172" cy="739" r="6"/><circle cx="476" cy="697" r="7"/><circle cx="358" cy="718" r="5"/><circle cx="928" cy="544" r="5"/><circle cx="744" cy="492" r="8"/><circle cx="565" cy="600" r="7"/><circle cx="204" cy="581" r="5"/><circle cx="107" cy="793" r="6"/><circle cx="550" cy="579" r="5"/><circle cx="570" cy="653" r="5"/><circle cx="404" cy="585" r="8"/><circle cx="829" cy="504" r="6"/><circle cx="274" cy="704" r="5"/><circle cx="250" cy="812" r="6"/><circle cx="840" cy="481" r="8"/><circle cx="140" cy="593" r="7"/><circle cx="141" cy="614" r="5"/><circle cx="137" cy="499" r="8"/><circle cx="173" cy="690" r="7"/><circle cx="237" cy="508" r="8"/><circle cx="422" cy="559" r="7"/><circle cx="483" cy="532" r="5"/><circle cx="167" cy="553" r="7"/><circle cx="134" cy="852" r="5"/><circle cx="432" cy="687" r="7"/><circle cx="512" cy="581" r="7"/><circle cx="724" cy="508" r="8"/><circle cx="298" cy="533" r="5"/><circle cx="332" cy="674" r="5"/><circle cx="436" cy="524" r="7"/><circle cx="605" cy="522" r="5"/><circle cx="524" cy="578" r="8"/><circle cx="135" cy="517" r="5"/><circle cx="866" cy="489" r="5"/><circle cx="818" cy="493" r="6"/><circle cx="192" cy="794" r="5"/><circle cx="258" cy="511" r="6"/><circle cx="324" cy="731" r="7"/><circle cx="435" cy="577" r="8"/><circle cx="471" cy="718" r="8"/><circle cx="236" cy="647" r="6"/><circle cx="242" cy="688" r="8"/><circle cx="263" cy="591" r="6"/><circle cx="228" cy="696" r="6"/><circle cx="338" cy="817" r="6"/><circle cx="251" cy="630" r="7"/><circle cx="730" cy="565" r="5"/><circle cx="518" cy="575" r="6"/><circle cx="158" cy="570" r="7"/><circle cx="314" cy="558" r="7"/><circle cx="219" cy="740" r="5"/><circle cx="909" cy="586" r="5"/><circle cx="379" cy="657" r="5"/><circle cx="202" cy="589" r="7"/><circle cx="128" cy="669" r="7"/><circle cx="101" cy="619" r="8"/><circle cx="439" cy="511" r="8"/><circle cx="449" cy="708" r="5"/><circle cx="894" cy="510" r="8"/><circle cx="197" cy="852" r="7"/><circle cx="183" cy="875" r="7"/><circle cx="835" cy="523" r="7"/><circle cx="198" cy="686" r="7"/><circle cx="149" cy="602" r="6"/><circle cx="230" cy="634" r="8"/><circle cx="206" cy="871" r="6"/><circle cx="367" cy="557" r="8"/><circle cx="378" cy="552" r="5"/><circle cx="192" cy="554" r="8"/><circle cx="420" cy="590" r="8"/><circle cx="143" cy="536" r="8"/><circle cx="552" cy="582" r="7"/><circle cx="158" cy="688" r="5"/><circle cx="232" cy="727" r="5"/><circle cx="196" cy="773" r="8"/><circle cx="985" cy="532" r="6"/><circle cx="588" cy="550" r="6"/><circle cx="278" cy="584" r="7"/><circle cx="122" cy="817" r="8"/><circle cx="97" cy="803" r="6"/><circle cx="512" cy="560" r="6"/><circle cx="129" cy="689" r="8"/><circle cx="196" cy="598" r="6"/><circle cx="218" cy="812" r="5"/><circle cx="118" cy="739" r="5"/><circle cx="546" cy="486" r="7"/><circle cx="724" cy="535" r="5"/><circle cx="534" cy="524" r="5"/><circle cx="523" cy="507" r="8"/><circle cx="284" cy="684" r="5"/><circle cx="458" cy="554" r="5"/><circle cx="431" cy="701" r="8"/><circle cx="298" cy="479" r="6"/><circle cx="329" cy="634" r="8"/><circle cx="578" cy="545" r="5"/><circle cx="250" cy="648" r="6"/><circle cx="671" cy="537" r="6"/><circle cx="496" cy="556" r="5"/><circle cx="460" cy="612" r="5"/><circle cx="732" cy="500" r="8"/><circle cx="130" cy="686" r="6"/><circle cx="314" cy="642" r="6"/><circle cx="244" cy="741" r="7"/><circle cx="122" cy="620" r="7"/><circle cx="382" cy="502" r="8"/><circle cx="98" cy="491" r="5"/><circle cx="112" cy="690" r="8"/><circle cx="144" cy="754" r="7"/><circle cx="277" cy="889" r="8"/><circle cx="403" cy="680" r="7"/><circle cx="946" cy="492" r="7"/><circle cx="262" cy="652" r="8"/><circle cx="420" cy="556" r="8"/><circle cx="492" cy="666" r="8"/><circle cx="954" cy="496" r="6"/><circle cx="738" cy="488" r="8"/><circle cx="178" cy="770" r="5"/><circle cx="385" cy="731" r="5"/><circle cx="430" cy="508" r="8"/><circle cx="401" cy="609" r="8"/><circle cx="168" cy="752" r="6"/><circle cx="942" cy="538" r="5"/><circle cx="196" cy="599" r="6"/><circle cx="294" cy="715" r="8"/><circle cx="658" cy="495" r="5"/><circle cx="187" cy="876" r="7"/><circle cx="173" cy="674" r="6"/><circle cx="194" cy="683" r="7"/><circle cx="438" cy="527" r="5"/><circle cx="165" cy="624" r="8"/><circle cx="805" cy="506" r="6"/><circle cx="321" cy="832" r="5"/><circle cx="398" cy="660" r="5"/><circle cx="322" cy="614" r="6"/><circle cx="940" cy="556" r="5"/><circle cx="121" cy="542" r="5"/><circle cx="674" cy="495" r="6"/><circle cx="345" cy="660" r="7"/><circle cx="519" cy="561" r="7"/><circle cx="224" cy="665" r="8"/><circle cx="497" cy="565" r="8"/><circle cx="241" cy="610" r="8"/><circle cx="356" cy="490" r="7"/><circle cx="364" cy="580" r="5"/><circle cx="108" cy="743" r="6"/><circle cx="580" cy="548" r="5"/><circle cx="97" cy="893" r="8"/><circle cx="423" cy="711" r="8"/><circle cx="262" cy="484" r="8"/><circle cx="502" cy="588" r="8"/><circle cx="473" cy="588" r="5"/><circle cx="122" cy="494" r="6"/><circle cx="319" cy="535" r="8"/><circle cx="594" cy="596" r="6"/><circle cx="136" cy="683" r="5"/><circle cx="564" cy="550" r="6"/><circle cx="162" cy="537" r="5"/><circle cx="464" cy="627" r="8"/><circle cx="347" cy="586" r="7"/><circle cx="963" cy="544" r="7"/><circle cx="221" cy="494" r="8"/><circle cx="123" cy="720" r="5"/><circle cx="536" cy="596" r="7"/><circle cx="188" cy="760" r="7"/><circle cx="125" cy="684" r="8"/><circle cx="272" cy="867" r="6"/><circle cx="454" cy="499" r="6"/><circle cx="382" cy="644" r="7"/><circle cx="127" cy="654" r="8"/><circle cx="982" cy="511" r="6"/><circle cx="727" cy="527" r="5"/><circle cx="100" cy="597" r="5"/><circle cx="513" cy="600" r="5"/><circle cx="253" cy="683" r="6"/><circle cx="226" cy="860" r="6"/><circle cx="455" cy="482" r="8"/><circle cx="144" cy="798" r="6"/><circle cx="376" cy="752" r="6"/><circle cx="887" cy="499" r="6"/><circle cx="579" cy="639" r="5"/><circle cx="487" cy="555" r="5"/><circle cx="349" cy="533" r="6"/><circle cx="362" cy="640" r="5"/><circle cx="941" cy="481" r="7"/><circle cx="318" cy="628" r="8"/><circle cx="189" cy="835" r="8"/><circle cx="114" cy="624" r="8"/><circle cx="582" cy="665" r="8"/><circle cx="849" cy="563" r="7"/><circle cx="257" cy="885" r="6"/><circle cx="213" cy="733" r="5"/><circle cx="199" cy="484" r="5"/><circle cx="788" cy="517" r="8"/><circle cx="390" cy="727" r="6"/><circle cx="387" cy="692" r="7"/><circle cx="260" cy="732" r="6"/><circle cx="679" cy="597" r="7"/><circle cx="505" cy="680" r="6"/><circle cx="158" cy="658" r="7"/><circle cx="149" cy="839" r="8"/><circle cx="286" cy="510" r="6"/><circle cx="145" cy="686" r="5"/></g>
<g fill="#a9a663" opacity="0.7"><circle cx="367" cy="691" r="5"/><circle cx="715" cy="522" r="5"/><circle cx="227" cy="571" r="5"/><circle cx="153" cy="478" r="4"/><circle cx="284" cy="662" r="4"/><circle cx="122" cy="705" r="5"/><circle cx="713" cy="529" r="5"/><circle cx="298" cy="537" r="5"/><circle cx="355" cy="558" r="4"/><circle cx="637" cy="514" r="4"/><circle cx="523" cy="537" r="4"/><circle cx="558" cy="660" r="6"/><circle cx="355" cy="748" r="6"/><circle cx="721" cy="513" r="5"/><circle cx="666" cy="518" r="6"/><circle cx="395" cy="655" r="6"/><circle cx="300" cy="614" r="6"/><circle cx="450" cy="515" r="6"/><circle cx="556" cy="579" r="4"/><circle cx="258" cy="824" r="6"/><circle cx="453" cy="623" r="5"/><circle cx="278" cy="604" r="6"/><circle cx="215" cy="702" r="6"/><circle cx="564" cy="611" r="6"/><circle cx="279" cy="503" r="5"/><circle cx="261" cy="522" r="5"/><circle cx="203" cy="864" r="5"/><circle cx="318" cy="849" r="6"/><circle cx="849" cy="502" r="5"/><circle cx="427" cy="572" r="5"/><circle cx="322" cy="589" r="6"/><circle cx="283" cy="606" r="4"/><circle cx="606" cy="582" r="6"/><circle cx="284" cy="820" r="5"/><circle cx="646" cy="552" r="6"/><circle cx="452" cy="706" r="6"/><circle cx="255" cy="605" r="5"/><circle cx="146" cy="810" r="5"/><circle cx="716" cy="572" r="6"/><circle cx="257" cy="781" r="5"/><circle cx="877" cy="539" r="5"/><circle cx="192" cy="701" r="5"/><circle cx="841" cy="564" r="4"/><circle cx="388" cy="651" r="6"/><circle cx="478" cy="714" r="5"/><circle cx="478" cy="634" r="4"/><circle cx="321" cy="772" r="6"/><circle cx="388" cy="546" r="6"/><circle cx="595" cy="632" r="6"/><circle cx="145" cy="682" r="4"/><circle cx="245" cy="759" r="4"/><circle cx="186" cy="705" r="5"/><circle cx="455" cy="506" r="5"/><circle cx="714" cy="575" r="5"/><circle cx="201" cy="878" r="5"/><circle cx="431" cy="540" r="5"/><circle cx="966" cy="557" r="6"/><circle cx="699" cy="582" r="5"/><circle cx="912" cy="520" r="6"/><circle cx="218" cy="513" r="5"/><circle cx="397" cy="526" r="4"/><circle cx="245" cy="760" r="5"/><circle cx="996" cy="534" r="5"/><circle cx="823" cy="587" r="6"/><circle cx="234" cy="491" r="5"/><circle cx="675" cy="567" r="4"/><circle cx="432" cy="496" r="6"/><circle cx="419" cy="528" r="4"/><circle cx="230" cy="708" r="6"/><circle cx="329" cy="515" r="4"/><circle cx="895" cy="536" r="4"/><circle cx="496" cy="552" r="4"/><circle cx="158" cy="766" r="5"/><circle cx="250" cy="492" r="6"/><circle cx="422" cy="497" r="4"/><circle cx="391" cy="573" r="5"/><circle cx="309" cy="480" r="4"/><circle cx="303" cy="653" r="4"/><circle cx="199" cy="759" r="4"/><circle cx="357" cy="488" r="4"/><circle cx="628" cy="572" r="5"/><circle cx="610" cy="590" r="6"/><circle cx="284" cy="725" r="6"/><circle cx="374" cy="505" r="5"/><circle cx="548" cy="520" r="6"/><circle cx="944" cy="540" r="6"/><circle cx="209" cy="900" r="4"/><circle cx="299" cy="700" r="5"/><circle cx="206" cy="689" r="5"/><circle cx="792" cy="487" r="4"/><circle cx="524" cy="480" r="6"/><circle cx="555" cy="681" r="4"/><circle cx="138" cy="763" r="5"/><circle cx="375" cy="716" r="5"/><circle cx="968" cy="496" r="6"/><circle cx="268" cy="513" r="6"/><circle cx="749" cy="537" r="4"/><circle cx="170" cy="762" r="6"/><circle cx="544" cy="631" r="5"/><circle cx="449" cy="674" r="6"/></g>
<path d="M150 845 Q130 870 170 905 L330 950 Q370 960 400 935 L870 610 Q890 585 860 560 L690 525 Q650 520 620 540 Z" fill="#f0761c"/>
<path d="M180 905 L190 935 L370 965 L372 940 Z" fill="#ee6a14"/>
<path d="M200 918 L203 948" stroke="#f6a860" stroke-width="6"/>
<path d="M222 922 L225 950" stroke="#f6a860" stroke-width="6"/>
<path d="M244 927 L247 952" stroke="#f6a860" stroke-width="6"/>
<path d="M266 931 L269 955" stroke="#f6a860" stroke-width="6"/>
<path d="M288 936 L291 957" stroke="#f6a860" stroke-width="6"/>
<path d="M310 940 L313 959" stroke="#f6a860" stroke-width="6"/>
<path d="M332 944 L335 961" stroke="#f6a860" stroke-width="6"/>
<path d="M354 949 L357 963" stroke="#f6a860" stroke-width="6"/>
<path d="M175 850 Q160 825 200 800 L275 775 L420 830 L350 880 Q300 890 240 880 Z" fill="#f5a340" stroke="#5a3a1a" stroke-width="6"/>
<path d="M600 590 L650 545 Q690 530 760 540 L830 560 Q850 575 820 600 L770 625 Z" fill="#f5a340" stroke="#5a3a1a" stroke-width="6"/>
<path d="M272 772 L598 588 L772 622 L422 832 Z" fill="#1568c4"/>
<path d="M300 790 L430 720 L470 735 L740 640" fill="none" stroke="#0d469c" stroke-width="10" opacity="0.7"/>
<path d="M420 700 L560 620 L590 640 L470 720 Z" fill="#1a3f9e"/>
<path d="M450 690 L490 670 L495 700 L462 715 Z" fill="#dff1fa"/><path d="M545 630 L580 615 L585 640 L555 655 Z" fill="#dff1fa"/>
<path d="M150 80 L255 80 L545 655 L480 690 Z" fill="#1b2f98"/>
<path d="M205 80 L255 80 L545 655 L510 672 Z" fill="#1f66cc"/>
<path d="M240 80 L255 80 L545 655 L537 659 Z" fill="#3b8fe0"/>
</g><rect x="82" y="78" width="934" height="938" rx="36" ry="36" fill="none" stroke="#0d3a8a" stroke-width="30"/></svg>
<svg class="abs" style="left:440px;top:697px" width="90" height="90" viewBox="0 0 1093 1093"><defs><clipPath id="c3"><rect x="92" y="90" width="912" height="915" rx="22" ry="22"/></clipPath></defs><g clip-path="url(#c3)">
<rect x="60" y="60" width="1000" height="370" fill="#fcf5c0"/>
<rect x="60" y="420" width="1000" height="52" fill="#b9b876"/>
<rect x="60" y="470" width="1000" height="560" fill="#cfcf8e"/>
<defs><linearGradient id="wg" gradientUnits="userSpaceOnUse" x1="625" y1="770" x2="790" y2="1020"><stop offset="0" stop-color="#e9f3f8" stop-opacity="0.98"/><stop offset="0.45" stop-color="#e3eee6" stop-opacity="0.7"/><stop offset="1" stop-color="#dde6c0" stop-opacity="0.05"/></linearGradient></defs>
<path d="M330 960 L880 590 L1010 640 L1010 1005 L330 1005 Z" fill="url(#wg)"/>
<path d="M760 720 L1000 820" stroke="#cdd6a6" stroke-width="8" stroke-linecap="round" opacity="0.5"/>
<path d="M640 800 L960 930" stroke="#d0d8a8" stroke-width="8" stroke-linecap="round" opacity="0.5"/>
<path d="M520 880 L800 990" stroke="#d2d9aa" stroke-width="8" stroke-linecap="round" opacity="0.5"/>
<path d="M150 845 Q130 870 170 905 L330 950 Q370 960 400 935 L870 610 Q890 585 860 560 L690 525 Q650 520 620 540 Z" fill="#f0761c"/>
<path d="M175 850 Q160 825 200 800 L275 775 L420 830 L350 880 Q300 890 240 880 Z" fill="#f5a340" stroke="#5a3a1a" stroke-width="6"/>
<path d="M600 590 L650 545 Q690 530 760 540 L830 560 Q850 575 820 600 L770 625 Z" fill="#f5a340" stroke="#5a3a1a" stroke-width="6"/>
<path d="M272 772 L598 588 L772 622 L422 832 Z" fill="#1568c4"/>
<path d="M300 790 L430 720 L470 735 L740 640" fill="none" stroke="#0d469c" stroke-width="10" opacity="0.7"/>
<path d="M420 700 L560 620 L590 640 L470 720 Z" fill="#1a3f9e"/>
<path d="M450 690 L490 670 L495 700 L462 715 Z" fill="#dff1fa"/><path d="M545 630 L580 615 L585 640 L555 655 Z" fill="#dff1fa"/>
<path d="M150 80 L255 80 L545 655 L480 690 Z" fill="#1b2f98"/>
<path d="M205 80 L255 80 L545 655 L510 672 Z" fill="#1f66cc"/>
<path d="M240 80 L255 80 L545 655 L537 659 Z" fill="#3b8fe0"/>
</g><rect x="82" y="78" width="934" height="938" rx="36" ry="36" fill="none" stroke="#0d3a8a" stroke-width="30"/></svg>
</div></body></html>
